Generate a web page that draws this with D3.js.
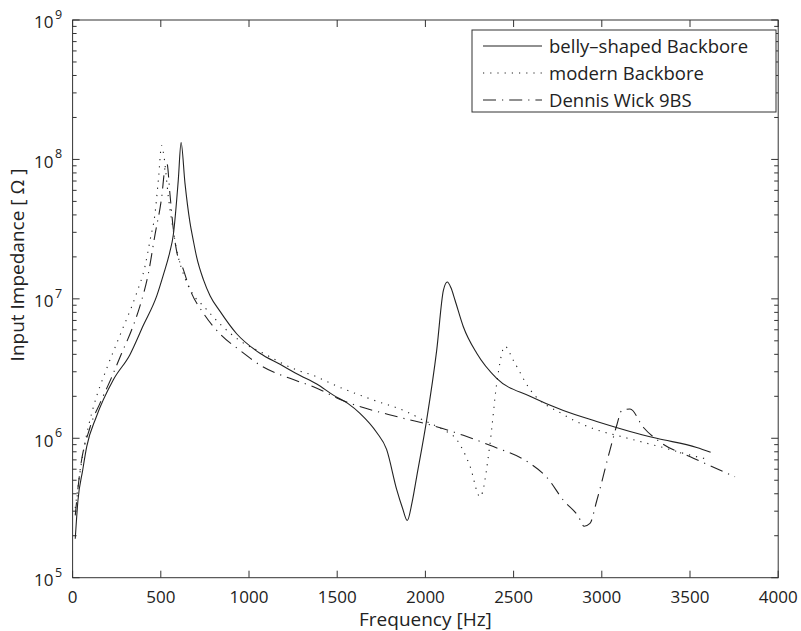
<!DOCTYPE html>
<html><head><meta charset="utf-8">
<script src="https://cdn.jsdelivr.net/npm/d3@7"></script>
<style>body{margin:0;background:#fff}svg{display:block}text{font-family:"Open Sans",sans-serif;fill:#222}</style>
</head><body>
<script>
const bellyFreq = [15,30,57,80,133,231,325,401,477,514,550,571,599,615,637,665,684,703,741,780,836,930,1062,1176,1290,1384,1478,1560,1629,1724,1780,1837,1870,1897,1925,1950,2007,2064,2102,2124,2145,2168,2215,2291,2404,2593,2782,2971,3160,3311,3538,3617];
const bellyZ = [1.9e5,3.55e5,5.89e5,8.71e5,1.41e6,2.63e6,3.98e6,6.46e6,1.05e7,1.48e7,2.14e7,2.88e7,7.08e7,1.32e8,6.76e7,3.55e7,2.63e7,2.0e7,1.38e7,1.05e7,8.13e6,5.62e6,4.07e6,3.39e6,2.82e6,2.45e6,2.04e6,1.78e6,1.51e6,1.1e6,8.32e5,4.3e5,3.16e5,2.57e5,3.5e5,5.25e5,1.35e6,4.27e6,1.15e7,1.32e7,1.2e7,9.77e6,6.31e6,4.07e6,2.69e6,2.0e6,1.58e6,1.32e6,1.12e6,1.0e6,8.6e5,7.94e5];
const modernFreq = [15,52,80,117,193,269,363,410,439,467,486,505,518,543,571,590,628,684,741,836,949,1081,1270,1365,1497,1705,1894,1988,2101,2177,2253,2310,2366,2404,2451,2498,2593,2782,2971,3122,3330,3575,3600];
const modernZ = [3.16e5,6.9e5,1.07e6,1.66e6,3.16e6,5.5e6,1.1e7,1.7e7,2.63e7,4.07e7,7.08e7,1.26e8,1.05e8,5.37e7,3.09e7,2.24e7,1.51e7,1.07e7,8.9e6,6.6e6,5.0e6,4.07e6,3.09e6,2.82e6,2.37e6,1.88e6,1.55e6,1.35e6,1.15e6,9.8e5,6.3e5,3.8e5,9.1e5,2.45e6,4.57e6,3.63e6,2.24e6,1.48e6,1.15e6,1.02e6,8.7e5,7.2e5,7.1e5];
const wickFreq = [15,40,99,155,222,278,335,382,429,467,505,524,535,552,571,590,628,665,741,836,949,1081,1232,1365,1535,1856,2045,2215,2366,2593,2688,2782,2867,2900,2933,2971,3047,3084,3113,3160,3235,3330,3519,3755];
const wickZ = [2.8e5,5.6e5,1.2e6,1.78e6,2.75e6,4.07e6,6.0e6,8.9e6,1.51e7,2.88e7,5.37e7,8.71e7,9.3e7,5.62e7,3.16e7,2.19e7,1.62e7,1.17e7,7.9e6,5.6e6,4.27e6,3.24e6,2.69e6,2.34e6,1.86e6,1.41e6,1.23e6,1.05e6,8.9e5,6.6e5,5.25e5,3.6e5,2.75e5,2.34e5,2.45e5,3.55e5,8.3e5,1.23e6,1.58e6,1.62e6,1.2e6,9.4e5,7.2e5,5.3e5];
const seriesNames = ["belly\u2013shaped Backbore","modern Backbore","Dennis Wick 9BS"];
const xTicks = [0,500,1000,1500,2000,2500,3000,3500,4000];
const yExps = [5,6,7,8,9];

const W=801,H=631;
const L=72.6,R=778.2,T=20,B=577.7;
const svg=d3.select("body").append("svg").attr("width",W).attr("height",H);
const x=d3.scaleLinear().domain([0,4000]).range([L,R]);
const y=d3.scaleLog().domain([1e5,1e9]).range([B,T]);
const ink="#333";

svg.append("defs").append("clipPath").attr("id","clip").append("rect")
  .attr("x",L).attr("y",T).attr("width",R-L).attr("height",B-T);

const minor=[];
for(let e=5;e<9;e++) for(let m=2;m<=9;m++) minor.push(m*Math.pow(10,e));
const g=svg.append("g").attr("stroke",ink).attr("stroke-width",1);
minor.forEach(v=>{
  g.append("line").attr("x1",L).attr("x2",L+4).attr("y1",y(v)).attr("y2",y(v));
  g.append("line").attr("x1",R).attr("x2",R-4).attr("y1",y(v)).attr("y2",y(v));
});
yExps.forEach(e=>{
  const v=Math.pow(10,e);
  g.append("line").attr("x1",L).attr("x2",L+7).attr("y1",y(v)).attr("y2",y(v));
  g.append("line").attr("x1",R).attr("x2",R-7).attr("y1",y(v)).attr("y2",y(v));
});
xTicks.forEach(t=>{
  g.append("line").attr("x1",x(t)).attr("x2",x(t)).attr("y1",B).attr("y2",B-7);
  g.append("line").attr("x1",x(t)).attr("x2",x(t)).attr("y1",T).attr("y2",T+7);
});

xTicks.forEach(t=>{
  svg.append("text").attr("x",x(t)).attr("y",603).attr("text-anchor","middle")
    .attr("font-size",17).text(t);
});
yExps.forEach(e=>{
  const yy=y(Math.pow(10,e));
  svg.append("text").attr("x",53.5).attr("y",yy+8.3).attr("text-anchor","end").attr("font-size",17).text("10");
  svg.append("text").attr("x",55).attr("y",yy-1).attr("font-size",12.5).text(e);
});

svg.append("text").attr("x",(L+R)/2).attr("y",626).attr("text-anchor","middle").attr("font-size",19).text("Frequency [Hz]");
svg.append("text").attr("transform",`translate(24,${265}) rotate(-90)`).attr("text-anchor","middle").attr("font-size",19).text("Input Impedance [ \u03A9 ]");

const styles=[{dash:null},{dash:"1.2,6"},{dash:"13,6,1.2,6"}];
const data=[[bellyFreq,bellyZ],[modernFreq,modernZ],[wickFreq,wickZ]];
const line=d3.line().x(d=>x(d[0])).y(d=>y(d[1])).curve(d3.curveMonotoneX);
const pg=svg.append("g").attr("clip-path","url(#clip)");
data.forEach((s,i)=>{
  const pts=s[0].map((f,j)=>[f,s[1][j]]);
  pg.append("path").attr("d",line(pts)).attr("fill","none").attr("stroke","#222")
    .attr("stroke-width",1.1).attr("stroke-dasharray",styles[i].dash);
});

svg.append("rect").attr("x",L).attr("y",T).attr("width",R-L).attr("height",B-T)
  .attr("fill","none").attr("stroke",ink).attr("stroke-width",1);

const lg=svg.append("g");
lg.append("rect").attr("x",472).attr("y",30).attr("width",304).attr("height",82)
  .attr("fill","#fff").attr("stroke",ink).attr("stroke-width",1);
seriesNames.forEach((n,i)=>{
  const yy=46+i*27;
  lg.append("line").attr("x1",483).attr("x2",542).attr("y1",yy).attr("y2",yy)
    .attr("stroke","#222").attr("stroke-width",1.1).attr("stroke-dasharray",styles[i].dash);
  lg.append("text").attr("x",549).attr("y",yy+6.5).attr("font-size",18.5).text(n);
});
</script>
</body></html>
